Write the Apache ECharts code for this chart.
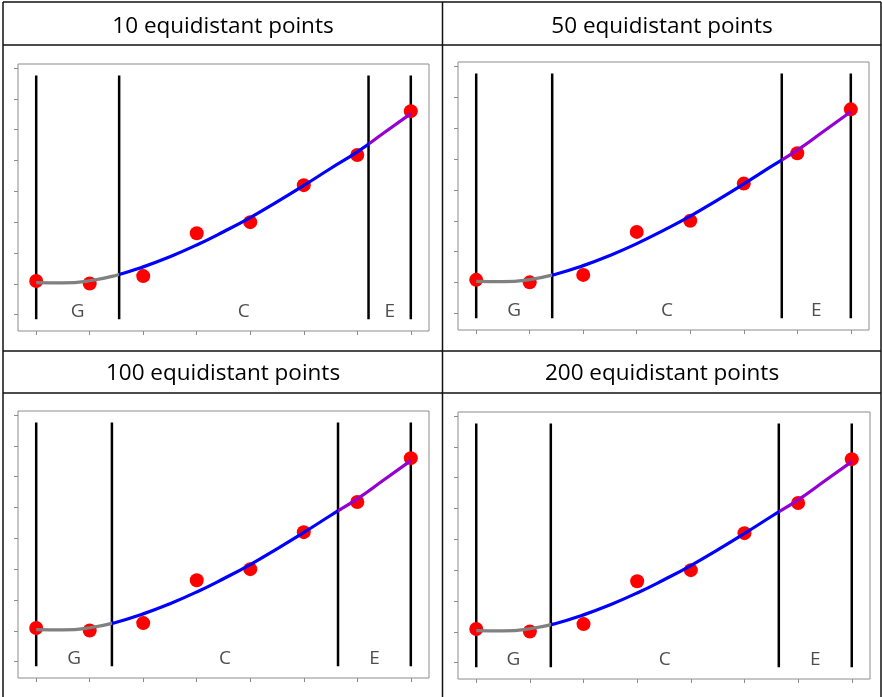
<!DOCTYPE html>
<html>
<head>
<meta charset="utf-8">
<script src="https://cdn.jsdelivr.net/npm/echarts@6/dist/echarts.min.js"></script>
<style>
  html, body { margin: 0; padding: 0; background: #fff; }
  #chart { width: 882px; height: 697px; }
</style>
</head>
<body>
<div id="chart"></div>
<script>
// data
const panelTitles = ['10 equidistant points', '50 equidistant points', '100 equidistant points', '200 equidistant points'];
const xTicks = [0, 1, 2, 3, 4, 5, 6, 7];
const yTicks = [0, 1, 2, 3, 4, 5, 6, 7, 8];
const pointX = [0, 1, 2, 3, 4, 5, 6, 7];
const pointY = [1.09, 1.01, 1.25, 2.64, 3.0, 4.2, 5.18, 6.6];
const curveX = [0, 0.5, 1, 1.5, 2, 2.5, 3, 3.5, 4, 4.5, 5, 5.5, 6, 6.5, 7];
const curveY = [1.04, 1.03, 1.10, 1.28, 1.55, 1.88, 2.26, 2.69, 3.15, 3.66, 4.19, 4.74, 5.28, 5.90, 6.52];
// region boundaries (vertical lines) per panel
const knots10 = [0, 1.55, 6.21, 7];
const knots50 = [0, 1.42, 5.71, 7];
const knots100 = [0, 1.415, 5.64, 7];
const knots200 = [0, 1.39, 5.64, 7];
const regionNames = ['G', 'C', 'E'];
const regionColors = ['#808080', '#0000ff', '#9400d3'];
const lineBottom = -0.15, lineTop = 7.76, labelY = 0.1;

const allKnots = [knots10, knots50, knots100, knots200];
const grids = [
  {left: 18, top: 64, width: 411, height: 267},
  {left: 458, top: 62, width: 411, height: 268},
  {left: 18, top: 411, width: 411, height: 267},
  {left: 458, top: 412, width: 412, height: 267}
];

let chart = echarts.init(document.getElementById('chart'));

let grid = [], xAxis = [], yAxis = [], series = [], visualMap = [];
grids.forEach((g, i) => {
  grid.push(Object.assign({show: true, borderColor: '#8c8c8c', borderWidth: 1, backgroundColor: '#fff'}, g));
  xAxis.push({
    type: 'value', gridIndex: i, min: -0.34, max: 7.34,
    axisLine: {show: false, onZero: false},
    axisTick: {show: true, inside: false, length: 4, customValues: xTicks, lineStyle: {color: '#8c8c8c'}},
    axisLabel: {show: false},
    splitLine: {show: false}
  });
  yAxis.push({
    type: 'value', gridIndex: i, min: -0.53, max: 8.13,
    axisLine: {show: false, onZero: false},
    axisTick: {show: true, inside: false, length: 4, customValues: yTicks, lineStyle: {color: '#8c8c8c'}},
    axisLabel: {show: false},
    splitLine: {show: false}
  });

  let k = allKnots[i];
  // vertical boundary lines
  k.forEach(x => {
    series.push({
      type: 'line', xAxisIndex: i, yAxisIndex: i, z: 1,
      data: [[x, lineBottom], [x, lineTop]],
      showSymbol: false, silent: true,
      lineStyle: {color: '#000', width: 2.5}
    });
  });
  // red points
  series.push({
    type: 'scatter', xAxisIndex: i, yAxisIndex: i, z: 2,
    data: pointX.map((x, j) => [x, pointY[j]]),
    symbolSize: 14,
    itemStyle: {color: '#ff0000', opacity: 1}
  });
  // fitted curve, coloured by region
  visualMap.push({
    type: 'piecewise', show: false, dimension: 0, seriesIndex: series.length,
    pieces: [
      {lt: k[1], color: regionColors[0]},
      {gte: k[1], lt: k[2], color: regionColors[1]},
      {gte: k[2], color: regionColors[2]}
    ]
  });
  series.push({
    type: 'line', xAxisIndex: i, yAxisIndex: i, z: 3,
    data: curveX.map((x, j) => [x, curveY[j]]),
    smooth: true, showSymbol: false,
    lineStyle: {width: 3.2}
  });
  // region letters
  series.push({
    type: 'scatter', xAxisIndex: i, yAxisIndex: i, z: 4,
    symbolSize: 0, silent: true,
    data: regionNames.map((n, j) => [(k[j] + k[j + 1]) / 2, labelY, n]),
    label: {
      show: true, position: 'inside', formatter: p => p.data[2],
      fontFamily: 'Open Sans', fontSize: 19, color: '#222'
    }
  });
});

// table lines and headers
let graphic = [];
let hLines = [2, 45, 351, 393];
let vLines = [3, 442.5, 881];
hLines.forEach(y => graphic.push({type: 'line', silent: true, shape: {x1: 3, y1: y, x2: 881, y2: y}, style: {stroke: '#111', lineWidth: 1.5}}));
vLines.forEach(x => graphic.push({type: 'line', silent: true, shape: {x1: x, y1: 2, x2: x, y2: 697}, style: {stroke: '#111', lineWidth: 1.5}}));
let headPos = [[223, 26.5], [662, 26.5], [223, 373.5], [662, 373.5]];
panelTitles.forEach((t, i) => {
  graphic.push({
    type: 'text', silent: true, x: headPos[i][0], y: headPos[i][1],
    style: {text: t, fontFamily: 'Open Sans', fontSize: 22.5, fill: '#000', textAlign: 'center', textVerticalAlign: 'middle'}
  });
});

chart.setOption({
  animation: false,
  backgroundColor: '#fff',
  grid: grid,
  xAxis: xAxis,
  yAxis: yAxis,
  visualMap: visualMap,
  graphic: graphic,
  series: series
});
</script>
</body>
</html>
